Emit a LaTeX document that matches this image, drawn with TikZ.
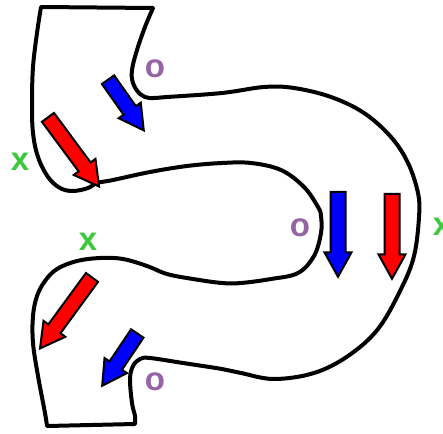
\documentclass[tikz,border=0pt]{standalone}
\usepackage{fontspec}
\setmainfont{Liberation Sans}
\usepackage{xcolor}
\usetikzlibrary{arrows.meta,shapes.arrows}
\definecolor{xgreen}{RGB}{60,200,60}
\definecolor{opurple}{RGB}{150,100,165}
\tikzset{
  flow/.style={single arrow,draw=black,line width=2pt,inner sep=6.5pt,single arrow head extend=6pt,
    single arrow tip angle=58,single arrow head indent=0pt,minimum height=#1},
  wall/.style={line width=4pt,line join=round,line cap=round},
  xmark/.style={text=xgreen,font=\fontsize{33}{33}\selectfont\bfseries,inner sep=0},
  omark/.style={text=opurple,font=\fontsize{33}{33}\selectfont\bfseries,inner sep=0}
}
\begin{document}
\begin{tikzpicture}[>=Stealth,x=1pt,y=-1pt]
\useasboundingbox (0,0) rectangle (443,433);
% channel outline
\draw[wall] (41,7) -- (153,8)
  -- plot[smooth,tension=0.6] coordinates {(153,8) (145,27) (137,50) (132,70) (133,83) (140,94) (150,98) (167,97) (222,93)
    (264,87) (294,88) (331,97) (364,113) (391,137) (408,163) (418,193) (419,217) (414,256) (401,289) (378,329)
    (348,356) (314,373) (274,379) (241,373) (222,369) (183,363) (150,358) (140,359) (133,366) (130,379) (132,403) (135,416) (135,424)}
  -- (47,426)
  -- plot[smooth,tension=0.6] coordinates {(47,426) (45,413) (38,376) (33,343) (33,316) (37,296) (45,281) (57,269) (77,261)
    (100,258) (123,259) (147,266) (167,274) (193,279) (222,283) (241,283) (271,279) (298,273) (314,256) (321,233)
    (321,216) (318,207) (304,187) (281,170) (251,163) (222,163) (187,166) (150,172) (113,180) (97,183) (88,188)
    (73,191) (60,188) (48,177) (38,157) (33,133) (32,103) (33,67) (37,33) (41,7)}
  -- cycle;
% flow arrows
\node[flow=62pt,fill=blue,rotate=-54.8] (b1) at (122,99.5) {};
\node[flow=86pt,fill=red,rotate=-53.5] (r1) at (69.5,146.5) {};
\node[flow=85pt,fill=blue,rotate=-90] (b2) at (338,227.5) {};
\node[flow=85pt,fill=red,rotate=-90] (r2) at (392,229.5) {};
\node[flow=88pt,fill=red,rotate=-126.2] (r3) at (70,307.5) {};
\node[flow=63pt,fill=blue,rotate=-123.9] (b3) at (123.5,354) {};
% labels
\node[omark] (o1) at (155,69) {o};
\node[xmark] (x1) at (20,162) {x};
\node[omark] (o2) at (300,228) {o};
\node[xmark] (x2) at (442,227) {x};
\node[xmark] (x3) at (88,242) {x};
\node[omark] (o3) at (155,382) {o};
\end{tikzpicture}
\end{document}
